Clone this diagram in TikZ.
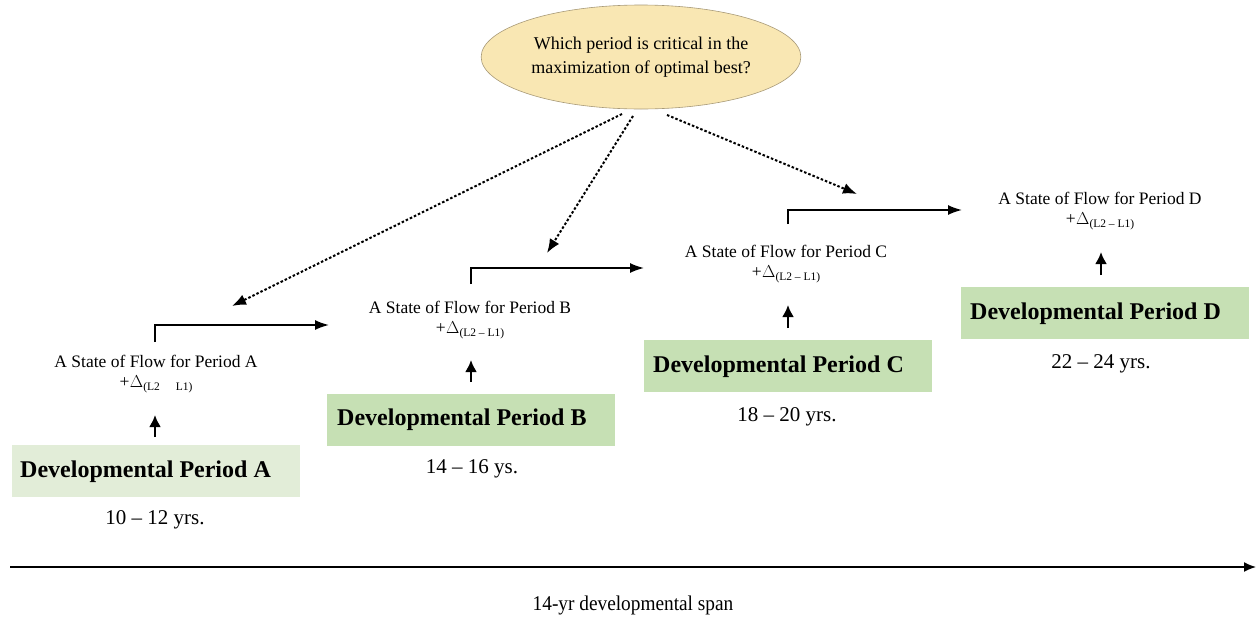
\documentclass[tikz,border=0pt]{standalone}
\usepackage{fontspec}
\setmainfont{Liberation Serif}
\usetikzlibrary{arrows.meta,shapes.geometric}
\definecolor{qfill}{HTML}{F9E7B3}
\definecolor{qline}{HTML}{A89A78}
\definecolor{greenA}{HTML}{E2EDD8}
\definecolor{greenB}{HTML}{C6E0B4}
\newcommand{\deltasub}[1]{+\kern0.5pt$\Delta$\raisebox{-0.45ex}{\fontsize{11.5}{11.5}\selectfont #1}}
\tikzset{
  periodbox/.style={minimum width=288pt, minimum height=52pt, inner sep=0pt},
  periodtext/.style={anchor=west, inner sep=0pt, font=\fontsize{24}{26}\selectfont\bfseries},
  flowtext/.style={align=center, font=\fontsize{17.5}{20}\selectfont, inner sep=0pt},
  yearstext/.style={font=\fontsize{21}{24}\selectfont, inner sep=0pt},
  solidarrow/.style={line width=1.7pt, -{Latex[length=14pt,width=10pt]}},
  uparrow/.style={line width=2.2pt, -{Latex[length=12pt,width=12pt]}},
  dotarrow/.style={line width=2pt, dash pattern=on 2.5pt off 2pt,
    -{Latex[length=14pt,width=11pt]}},
}
\begin{document}
\begin{tikzpicture}[x=1pt,y=-1pt]
\useasboundingbox (0,0) rectangle (1260,619);

% central question
\node[ellipse, draw=qline, line width=0.6pt, fill=qfill, minimum width=310pt,
  minimum height=104pt, align=center, font=\fontsize{18}{24}\selectfont]
  (q) at (641,57) {Which period is critical in the\\maximization of optimal best?};

% developmental periods
\node[periodbox, fill=greenA] (pA) at (156,471) {};
\node[periodtext] (tA) at (20,472) {Developmental Period A};
\node[periodbox, fill=greenB] (pB) at (471,420) {};
\node[periodtext] (tB) at (337,420) {Developmental Period B};
\node[periodbox, fill=greenB] (pC) at (788,366) {};
\node[periodtext] (tC) at (653,367) {Developmental Period C};
\node[periodbox, fill=greenB] (pD) at (1105,313) {};
\node[periodtext] (tD) at (970,314) {Developmental Period D};

% age ranges
\node[yearstext] (yA) at (155,520) {10 -- 12 yrs.};
\node[yearstext] (yB) at (472,469) {14 -- 16 ys.};
\node[yearstext] (yC) at (787,417) {18 -- 20 yrs.};
\node[yearstext] (yD) at (1101,364) {22 -- 24 yrs.};

% flow states
\node[flowtext] (fA) at (156,374) {A State of Flow for Period A\\\deltasub{(L2\hspace{16pt}L1)}};
\node[flowtext] (fB) at (470,320) {A State of Flow for Period B\\\deltasub{(L2 -- L1)}};
\node[flowtext] (fC) at (786,264) {A State of Flow for Period C\\\deltasub{(L2 -- L1)}};
\node[flowtext] (fD) at (1100,211) {A State of Flow for Period D\\\deltasub{(L2 -- L1)}};

% period -> flow state
\coordinate (uA0) at (155,437); \coordinate (uA1) at (155,415);
\coordinate (uB0) at (471,382); \coordinate (uB1) at (471,360);
\coordinate (uC0) at (788,328); \coordinate (uC1) at (788,305);
\coordinate (uD0) at (1101,275); \coordinate (uD1) at (1101,252);
\draw[uparrow] (uA0) -- (uA1);
\draw[uparrow] (uB0) -- (uB1);
\draw[uparrow] (uC0) -- (uC1);
\draw[uparrow] (uD0) -- (uD1);

% flow state -> next flow state
\coordinate (bA0) at (155,342); \coordinate (bA1) at (329,325);
\coordinate (bB0) at (471,284); \coordinate (bB1) at (644,268);
\coordinate (bC0) at (788,224); \coordinate (bC1) at (962,210);
\draw[solidarrow] (bA0) |- (bA1);
\draw[solidarrow] (bB0) |- (bB1);
\draw[solidarrow] (bC0) |- (bC1);

% question -> candidate periods
\coordinate (dA) at (232,306);
\coordinate (dB) at (547,253);
\coordinate (dC) at (857,194);
\draw[dotarrow] (622,114) -- (dA);
\draw[dotarrow] (633,116) -- (dB);
\draw[dotarrow] (667,115) -- (dC);

% time axis
\coordinate (t0) at (10,567);
\coordinate (t1) at (1256,567);
\draw[line width=1.6pt, -{Latex[length=12pt,width=10pt]}] (t0) -- (t1);
\node[font=\fontsize{21}{24}\selectfont, inner sep=0pt, xscale=0.92] (span) at (633,605) {14-yr developmental span};
\end{tikzpicture}
\end{document}
